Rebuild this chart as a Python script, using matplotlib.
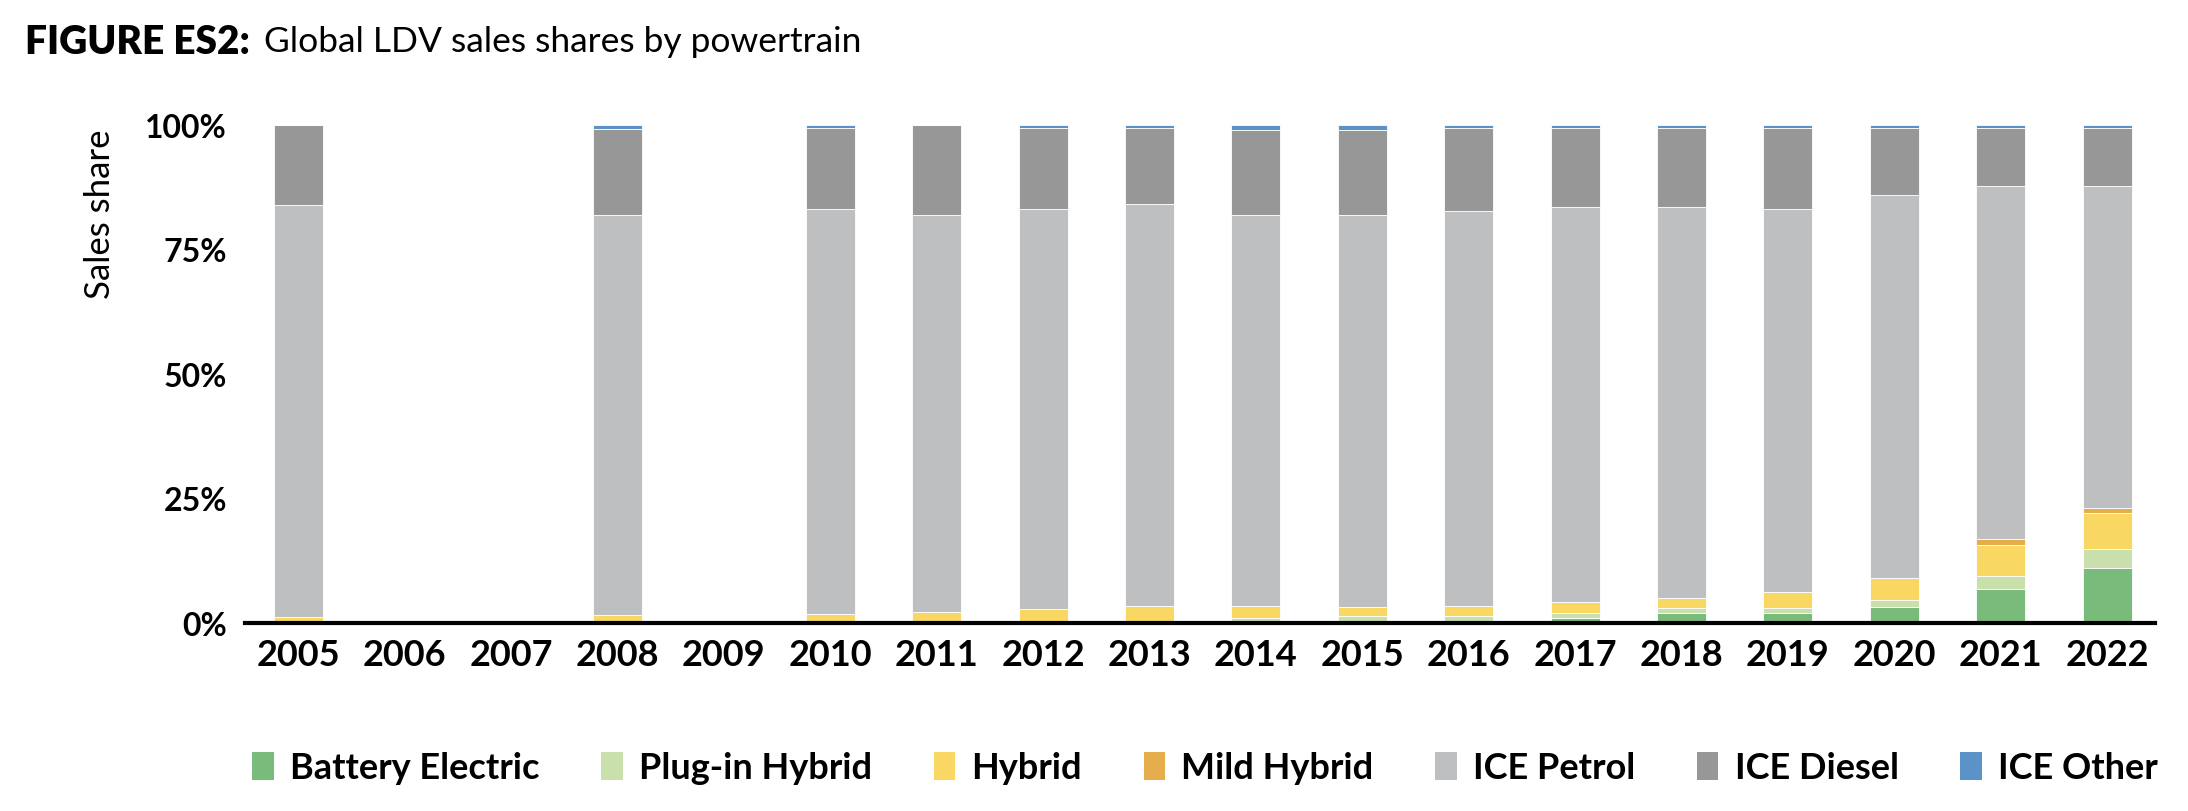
import numpy as np
import matplotlib
matplotlib.use('Agg')
from matplotlib import pyplot as plt

nan = np.nan

years = ['2005', '2006', '2007', '2008', '2009', '2010', '2011', '2012', '2013',
         '2014', '2015', '2016', '2017', '2018', '2019', '2020', '2021', '2022']

# shares in %, no data for 2006, 2007, 2009
battery_electric = [0.0, nan, nan, 0.0, nan, 0.0, 0.0, 0.0, 0.0, 0.2, 0.3, 0.3, 1.1, 2.0, 2.0, 3.3, 6.9, 11.0]
plugin_hybrid = [0.0, nan, nan, 0.0, nan, 0.0, 0.0, 0.0, 0.0, 0.8, 1.1, 1.1, 0.9, 1.0, 1.1, 1.3, 2.6, 3.9]
hybrid = [1.3, nan, nan, 1.7, nan, 1.9, 2.2, 2.9, 3.4, 2.4, 1.9, 2.1, 2.2, 2.1, 3.1, 4.5, 6.1, 7.1]
mild_hybrid = [0.0, nan, nan, 0.0, nan, 0.0, 0.0, 0.0, 0.0, 0.0, 0.0, 0.0, 0.0, 0.0, 0.0, 0.0, 1.2, 1.0]
ice_petrol = [82.6, nan, nan, 80.3, nan, 81.2, 79.8, 80.2, 80.7, 78.6, 78.7, 79.2, 79.4, 78.5, 76.9, 76.8, 70.9, 64.7]
ice_diesel = [16.1, nan, nan, 17.2, nan, 16.2, 18.0, 16.2, 15.3, 17.0, 17.0, 16.7, 15.7, 15.8, 16.3, 13.5, 11.7, 11.7]
ice_other = [0.0, nan, nan, 0.8, nan, 0.7, 0.0, 0.7, 0.6, 1.0, 1.0, 0.6, 0.7, 0.6, 0.6, 0.6, 0.6, 0.6]

series = [
    ('Battery Electric', battery_electric, '#78bb7b'),
    ('Plug-in Hybrid', plugin_hybrid, '#c9e0ad'),
    ('Hybrid', hybrid, '#f8d862'),
    ('Mild Hybrid', mild_hybrid, '#e6ad4c'),
    ('ICE Petrol', ice_petrol, '#bebfc1'),
    ('ICE Diesel', ice_diesel, '#979797'),
    ('ICE Other', ice_other, '#5b93c8'),
]

FONT = ['Lato', 'DejaVu Sans']

W, H = 2188, 812
fig = plt.figure(figsize=(W / 100, H / 100), dpi=100)
# axes box in pixels: left 245, right 2155, 0% at y=624, 100% at y=126
ax = fig.add_axes([245 / W, (H - 624) / H, (2155 - 245) / W, (624 - 126) / H])

x = np.arange(len(years))
bottom = np.zeros(len(years))
for name, vals, col in series:
    vals = np.array(vals, dtype=float)
    ax.bar(x, vals, width=0.46, bottom=bottom, color=col, label=name,
           edgecolor='white', linewidth=0.6)
    bottom = bottom + np.nan_to_num(vals)

ax.set_xlim(-0.5, 17.45)
ax.set_ylim(0, 100)
ax.set_yticks([0, 25, 50, 75, 100])
ax.set_yticklabels(['0%', '25%', '50%', '75%', '100%'])
ax.set_xticks(x)
ax.set_xticklabels(years)

for s in ['top', 'right', 'left']:
    ax.spines[s].set_visible(False)
ax.spines['bottom'].set_linewidth(3)
ax.spines['bottom'].set_color('black')
ax.tick_params(axis='both', length=0)
ax.tick_params(axis='y', pad=13)
ax.tick_params(axis='x', pad=11)
for t in ax.get_yticklabels():
    t.set_family(FONT)
    t.set_weight('bold')
    t.set_fontsize(23)
for t in ax.get_xticklabels():
    t.set_family(FONT)
    t.set_weight('bold')
    t.set_fontsize(26)

fig.text(100 / W, 1 - 214 / H, 'Sales share', rotation=90, ha='center', va='center',
         fontsize=25, family=FONT)

# title in two parts
t1 = fig.text(25 / W, 1 - 42 / H, 'FIGURE ES2:', ha='left', va='center', fontsize=28,
              weight='heavy', family=FONT)
fig.canvas.draw()
bb = t1.get_window_extent()
fig.text((bb.x1 + 14) / W, 1 - 42 / H, 'Global LDV sales shares by powertrain', ha='left',
         va='center', fontsize=25.5, family=FONT)

leg = fig.legend(loc='center', bbox_to_anchor=(1205 / W, 1 - 769 / H), ncol=7, frameon=False,
                 handlelength=0.6, handleheight=0.85, handletextpad=0.45, columnspacing=1.7,
                 prop={'family': FONT, 'weight': 'bold', 'size': 26})
for p in leg.get_patches():
    p.set_edgecolor('none')

fig.savefig('out.png', dpi=100)
